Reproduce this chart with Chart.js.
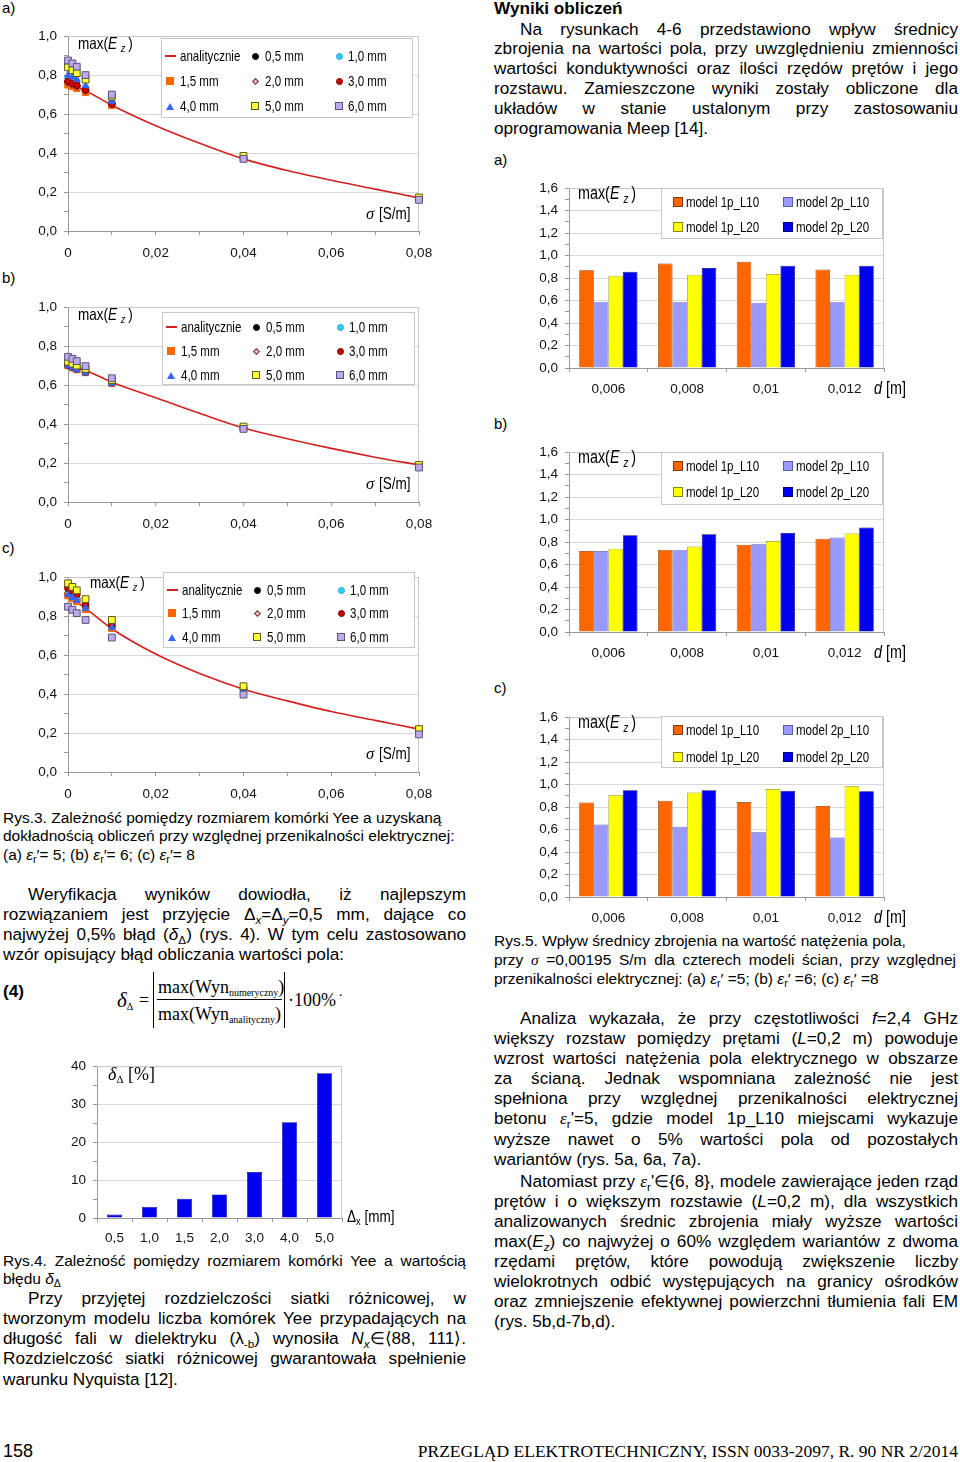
<!DOCTYPE html>
<html lang="pl">
<head>
<meta charset="UTF-8" />
<title>Przegląd Elektrotechniczny – str. 158</title>
<script src="https://cdn.jsdelivr.net/npm/chart.js@4.4.0/dist/chart.umd.min.js"></script>
<style>
  body { margin:0; width:960px; height:1462px; position:relative; overflow:hidden; background:#fff; color:#000;
         font-family:'Liberation Sans', Arial, sans-serif; }
  .t { position:absolute; white-space:nowrap; font-size:17.2px; line-height:20px; height:20px; }
  .j { white-space:normal; text-align:justify; text-align-last:justify; }
  .cap { font-size:15.5px; line-height:18px; height:18px; }
  .lbl { position:absolute; font-size:15px; line-height:18px; }
  .chart { position:absolute; }
  .ser { font-family:'Liberation Serif','Times New Roman',serif; }
  .ann { position:absolute; white-space:nowrap; font-size:16.5px; line-height:20px; z-index:2; }
  .cond { display:inline-block; transform:scaleX(0.82); transform-origin:left center; }
  .legend { position:absolute; background:#fff; border:1px solid #c8c8c8; z-index:2; box-sizing:border-box; }
  .legend .it { position:absolute; font-size:15px; line-height:16px; white-space:nowrap;
                transform:scaleX(0.77); transform-origin:left center; }
  .mk { position:absolute; box-sizing:border-box; }
  sub { font-size:0.68em; vertical-align:-0.3em; line-height:0; }
</style>
</head>
<body>

<!-- ===== left column ===== -->
<div class="lbl" style="left:2px;top:-1px">a)</div>
<div class="chart" style="left:20px;top:21px;width:430px;height:246px"><canvas id="fig3a"></canvas></div>
<div class="ann" style="left:78px;top:33px"><span class="cond">max(<i>E</i> <sub><i>z</i></sub>&thinsp;)</span></div>
<div class="ann" style="left:366px;top:203px"><i class="ser">σ</i> <span class="cond">[S/m]</span></div>
<div class="legend" id="leg3a" style="left:161px;top:38px;width:252px;height:80px"></div>

<div class="lbl" style="left:2px;top:269px">b)</div>
<div class="chart" style="left:20px;top:292px;width:430px;height:246px"><canvas id="fig3b"></canvas></div>
<div class="ann" style="left:78px;top:304px"><span class="cond">max(<i>E</i> <sub><i>z</i></sub>&thinsp;)</span></div>
<div class="ann" style="left:366px;top:473px"><i class="ser">σ</i> <span class="cond">[S/m]</span></div>
<div class="legend" id="leg3b" style="left:162px;top:312px;width:253px;height:73px"></div>

<div class="lbl" style="left:2px;top:539px">c)</div>
<div class="chart" style="left:20px;top:562px;width:430px;height:246px"><canvas id="fig3c"></canvas></div>
<div class="ann" style="left:90px;top:572px"><span class="cond">max(<i>E</i> <sub><i>z</i></sub>&thinsp;)</span></div>
<div class="ann" style="left:366px;top:743px"><i class="ser">σ</i> <span class="cond">[S/m]</span></div>
<div class="legend" id="leg3c" style="left:163px;top:572px;width:252px;height:76px"></div>

<div class="t cap" style="left:3px;top:809px">Rys.3. Zależność pomiędzy rozmiarem komórki Yee a uzyskaną</div>
<div class="t cap" style="left:3px;top:827px">dokładnością obliczeń przy względnej przenikalności elektrycznej:</div>
<div class="t cap" style="left:3px;top:846px">(a) <i>ε</i><sub>r</sub>′= 5; (b) <i>ε</i><sub>r</sub>′= 6; (c) <i>ε</i><sub>r</sub>′= 8</div>

<div class="t j" style="left:28px;top:884px;width:438px">Weryfikacja wyników dowiodła, iż najlepszym</div>
<div class="t j" style="left:3px;top:904px;width:463px">rozwiązaniem jest przyjęcie Δ<sub><i>x</i></sub>=Δ<sub><i>y</i></sub>=0,5&nbsp;mm, dające co</div>
<div class="t j" style="left:3px;top:924px;width:463px">najwyżej 0,5% błąd (<i>δ</i><sub>Δ</sub>) (rys. 4). W tym celu zastosowano</div>
<div class="t" style="left:3px;top:944px">wzór opisujący błąd obliczania wartości pola:</div>

<!-- formula (4) -->
<div class="t" style="left:3px;top:981px;font-weight:bold">(4)</div>
<div class="t ser" style="left:117px;top:989px;font-size:21px;line-height:22px"><i>δ</i><sub style="font-size:10px">Δ</sub></div>
<div class="t ser" style="left:139px;top:989px;font-size:18px;line-height:22px">=</div>
<div style="position:absolute;left:153px;top:972px;width:0;height:56px;border-left:1px solid #000"></div>
<div class="t ser" style="left:158px;top:976px;font-size:18px;line-height:22px">max(Wyn<sub style="font-size:10px">numeryczny</sub>)</div>
<div style="position:absolute;left:157px;top:999px;width:125px;height:0;border-top:1px solid #000"></div>
<div class="t ser" style="left:158px;top:1003px;font-size:18px;line-height:22px">max(Wyn<sub style="font-size:10px">analityczny</sub>)</div>
<div style="position:absolute;left:284px;top:972px;width:0;height:56px;border-left:1px solid #000"></div>
<div class="t ser" style="left:288px;top:989px;font-size:18px;line-height:22px">·100%</div>
<div class="t ser" style="left:339px;top:982px;font-size:14px">.</div>

<div class="chart" style="left:60px;top:1051px;width:300px;height:201px"><canvas id="fig4"></canvas></div>
<div class="ann ser" style="left:108px;top:1064px;font-size:18px"><i>δ</i><sub style="font-size:11px">Δ</sub> <span>[%]</span></div>
<div class="ann" style="left:347px;top:1206px"><span class="cond">Δ<sub>x</sub> [mm]</span></div>

<div class="t cap j" style="left:3px;top:1252px;width:463px">Rys.4. Zależność pomiędzy rozmiarem komórki Yee a wartością</div>
<div class="t cap" style="left:3px;top:1270px">błędu <i>δ</i><sub>Δ</sub></div>

<div class="t j" style="left:28px;top:1288px;width:438px">Przy przyjętej rozdzielczości siatki różnicowej, w</div>
<div class="t j" style="left:3px;top:1308px;width:463px">tworzonym modelu liczba komórek Yee przypadających na</div>
<div class="t j" style="left:3px;top:1328px;width:463px">długość fali w dielektryku (λ<sub>-b</sub>) wynosiła <i>N</i><sub><i>x</i></sub>∈⟨88,&nbsp;111⟩.</div>
<div class="t j" style="left:3px;top:1348px;width:463px">Rozdzielczość siatki różnicowej gwarantowała spełnienie</div>
<div class="t" style="left:3px;top:1369px">warunku Nyquista [12].</div>

<!-- ===== right column ===== -->
<div class="t" style="left:494px;top:-2px;font-weight:bold">Wyniki obliczeń</div>
<div class="t j" style="left:520px;top:19px;width:438px">Na rysunkach 4-6 przedstawiono wpływ średnicy</div>
<div class="t j" style="left:494px;top:38px;width:464px">zbrojenia na wartości pola, przy uwzględnieniu zmienności</div>
<div class="t j" style="left:494px;top:58px;width:464px">wartości konduktywności oraz ilości rzędów prętów i jego</div>
<div class="t j" style="left:494px;top:78px;width:464px">rozstawu. Zamieszczone wyniki zostały obliczone dla</div>
<div class="t j" style="left:494px;top:98px;width:464px">układów w stanie ustalonym przy zastosowaniu</div>
<div class="t" style="left:494px;top:118px">oprogramowania Meep [14].</div>

<div class="lbl" style="left:494px;top:151px">a)</div>
<div class="chart" style="left:520px;top:173px;width:380px;height:229px"><canvas id="fig5a"></canvas></div>
<div class="ann" style="left:578px;top:183px;font-size:17.5px"><span class="cond">max(<i>E</i> <sub><i>z</i></sub>&thinsp;)</span></div>
<div class="ann" style="left:874px;top:378px;font-size:17.5px"><span class="cond"><i>d</i> [m]</span></div>
<div class="legend" id="leg5a" style="left:661px;top:188px;width:222px;height:51px"></div>

<div class="lbl" style="left:494px;top:415px">b)</div>
<div class="chart" style="left:520px;top:437px;width:380px;height:229px"><canvas id="fig5b"></canvas></div>
<div class="ann" style="left:578px;top:447px;font-size:17.5px"><span class="cond">max(<i>E</i> <sub><i>z</i></sub>&thinsp;)</span></div>
<div class="ann" style="left:874px;top:642px;font-size:17.5px"><span class="cond"><i>d</i> [m]</span></div>
<div class="legend" id="leg5b" style="left:661px;top:452px;width:222px;height:53px"></div>

<div class="lbl" style="left:494px;top:679px">c)</div>
<div class="chart" style="left:520px;top:702px;width:380px;height:229px"><canvas id="fig5c"></canvas></div>
<div class="ann" style="left:578px;top:712px;font-size:17.5px"><span class="cond">max(<i>E</i> <sub><i>z</i></sub>&thinsp;)</span></div>
<div class="ann" style="left:874px;top:907px;font-size:17.5px"><span class="cond"><i>d</i> [m]</span></div>
<div class="legend" id="leg5c" style="left:661px;top:716px;width:222px;height:52px"></div>

<div class="t cap" style="left:494px;top:932px">Rys.5. Wpływ średnicy zbrojenia na wartość natężenia pola,</div>
<div class="t cap j" style="left:494px;top:951px;width:462px">przy <i class="ser">σ</i> =0,00195 S/m dla czterech modeli ścian, przy względnej</div>
<div class="t cap" style="left:494px;top:970px">przenikalności elektrycznej: (a) <i>ε</i><sub>r</sub>′ =5; (b) <i>ε</i><sub>r</sub>′ =6; (c) <i>ε</i><sub>r</sub>′ =8</div>

<div class="t j" style="left:520px;top:1008px;width:438px">Analiza wykazała, że przy częstotliwości <i>f</i>=2,4 GHz</div>
<div class="t j" style="left:494px;top:1028px;width:464px">większy rozstaw pomiędzy prętami (<i>L</i>=0,2 m) powoduje</div>
<div class="t j" style="left:494px;top:1048px;width:464px">wzrost wartości natężenia pola elektrycznego w obszarze</div>
<div class="t j" style="left:494px;top:1068px;width:464px">za ścianą. Jednak wspomniana zależność nie jest</div>
<div class="t j" style="left:494px;top:1088px;width:464px">spełniona przy względnej przenikalności elektrycznej</div>
<div class="t j" style="left:494px;top:1108px;width:464px">betonu <i class="ser">ε</i><sub>r</sub>'=5, gdzie model 1p_L10 miejscami wykazuje</div>
<div class="t j" style="left:494px;top:1129px;width:464px">wyższe nawet o 5% wartości pola od pozostałych</div>
<div class="t" style="left:494px;top:1149px">wariantów (rys. 5a, 6a, 7a).</div>

<div class="t j" style="left:520px;top:1171px;width:438px">Natomiast przy <i class="ser">ε</i><sub>r</sub>'∈{6, 8}, modele zawierające jeden rząd</div>
<div class="t j" style="left:494px;top:1191px;width:464px">prętów i o większym rozstawie (<i>L</i>=0,2 m), dla wszystkich</div>
<div class="t j" style="left:494px;top:1211px;width:464px">analizowanych średnic zbrojenia miały wyższe wartości</div>
<div class="t j" style="left:494px;top:1231px;width:464px">max(<i>E</i><sub><i>z</i></sub>) co najwyżej o 60% względem wariantów z dwoma</div>
<div class="t j" style="left:494px;top:1251px;width:464px">rzędami prętów, które powodują zwiększenie liczby</div>
<div class="t j" style="left:494px;top:1271px;width:464px">wielokrotnych odbić występujących na granicy ośrodków</div>
<div class="t j" style="left:494px;top:1291px;width:464px">oraz zmniejszenie efektywnej powierzchni tłumienia fali EM</div>
<div class="t" style="left:494px;top:1311px">(rys. 5b,d-7b,d).</div>

<!-- footer -->
<div class="t" style="left:3px;top:1441px;font-size:18px">158</div>
<div class="t ser" style="left:380px;top:1441px;width:578px;text-align:right;font-size:17.5px">PRZEGLĄD ELEKTROTECHNICZNY, ISSN 0033-2097, R. 90 NR 2/2014</div>

<script>
  // ---- Rys.3: max(Ez) vs conductivity, for several Yee cell sizes ----
  const sigmaPoints = [0, 0.001, 0.002, 0.004, 0.01, 0.04, 0.08];
  const sigmaCurve = [0, 0.004, 0.01, 0.02, 0.03, 0.04, 0.05, 0.06, 0.07, 0.08];
  const cellSizes = ['0,5 mm', '1,0 mm', '1,5 mm', '2,0 mm', '3,0 mm', '4,0 mm', '5,0 mm', '6,0 mm'];

  // one row per cell size, values at sigmaPoints
  const ez3a = [
    [0.765, 0.755, 0.745, 0.722, 0.655, 0.375, 0.165],
    [0.785, 0.775, 0.765, 0.735, 0.660, 0.375, 0.165],
    [0.750, 0.742, 0.732, 0.712, 0.645, 0.372, 0.165],
    [0.760, 0.750, 0.740, 0.718, 0.650, 0.374, 0.165],
    [0.768, 0.757, 0.747, 0.724, 0.652, 0.376, 0.166],
    [0.800, 0.790, 0.778, 0.745, 0.665, 0.378, 0.167],
    [0.840, 0.825, 0.810, 0.777, 0.690, 0.385, 0.172],
    [0.875, 0.860, 0.843, 0.800, 0.700, 0.370, 0.160]
  ];
  const ez3b = [
    [0.700, 0.690, 0.680, 0.665, 0.610, 0.378, 0.185],
    [0.705, 0.695, 0.685, 0.668, 0.612, 0.378, 0.185],
    [0.700, 0.690, 0.680, 0.665, 0.610, 0.378, 0.185],
    [0.702, 0.692, 0.682, 0.667, 0.612, 0.378, 0.185],
    [0.703, 0.693, 0.683, 0.667, 0.612, 0.378, 0.185],
    [0.698, 0.688, 0.678, 0.662, 0.608, 0.376, 0.184],
    [0.720, 0.710, 0.700, 0.683, 0.625, 0.387, 0.190],
    [0.745, 0.735, 0.723, 0.697, 0.635, 0.375, 0.177]
  ];
  const ez3c = [
    [0.910, 0.895, 0.880, 0.840, 0.740, 0.425, 0.215],
    [0.915, 0.900, 0.885, 0.845, 0.745, 0.425, 0.215],
    [0.905, 0.890, 0.875, 0.835, 0.738, 0.420, 0.213],
    [0.920, 0.905, 0.890, 0.848, 0.748, 0.427, 0.216],
    [0.943, 0.928, 0.912, 0.860, 0.757, 0.430, 0.218],
    [0.910, 0.895, 0.880, 0.840, 0.740, 0.424, 0.214],
    [0.968, 0.950, 0.932, 0.887, 0.780, 0.440, 0.220],
    [0.848, 0.832, 0.815, 0.780, 0.690, 0.397, 0.193]
  ];
  // analytical curves, values at sigmaCurve
  const curve3a = [0.755, 0.720, 0.645, 0.540, 0.450, 0.370, 0.310, 0.260, 0.215, 0.170];
  const curve3b = [0.700, 0.675, 0.615, 0.535, 0.455, 0.380, 0.325, 0.275, 0.230, 0.190];
  const curve3c = [0.900, 0.840, 0.735, 0.605, 0.505, 0.425, 0.365, 0.310, 0.265, 0.220];

  // ---- Rys.4: error vs cell size ----
  const cellLabels = ['0,5', '1,0', '1,5', '2,0', '3,0', '4,0', '5,0'];
  const deltaError = [0.9, 2.9, 5.1, 6.2, 12.1, 25.2, 38.1];

  // ---- Rys.5: max(Ez) vs rebar diameter, four wall models ----
  const diameters = ['0,006', '0,008', '0,01', '0,012'];
  const modelNames = ['model 1p_L10', 'model 2p_L10', 'model 1p_L20', 'model 2p_L20'];
  const ez5a = [
    [0.870, 0.930, 0.945, 0.875],
    [0.590, 0.585, 0.580, 0.585],
    [0.820, 0.830, 0.835, 0.830],
    [0.855, 0.890, 0.910, 0.910]
  ];
  const ez5b = [
    [0.720, 0.730, 0.775, 0.830],
    [0.720, 0.730, 0.780, 0.840],
    [0.740, 0.760, 0.810, 0.875],
    [0.860, 0.870, 0.880, 0.930]
  ];
  const ez5c = [
    [0.840, 0.855, 0.845, 0.810],
    [0.645, 0.625, 0.575, 0.530],
    [0.905, 0.930, 0.960, 0.985],
    [0.950, 0.950, 0.945, 0.940]
  ];

  // ---- styles ----
  const markerStyles = [
    { shape: 'circle',   bg: '#000000', bd: '#000000', r: 3.2 },
    { shape: 'circle',   bg: '#33ccff', bd: '#22aadd', r: 3.2 },
    { shape: 'rect',     bg: '#ff6600', bd: '#ff6600', r: 4.6 },
    { shape: 'rectRot',  bg: '#f4c8c8', bd: '#7a2a2a', r: 3.4 },
    { shape: 'circle',   bg: '#d00000', bd: '#700000', r: 3.4 },
    { shape: 'triangle', bg: '#3366ff', bd: '#3366ff', r: 3.8 },
    { shape: 'rect',     bg: '#ffff33', bd: '#5a5a1a', r: 4.8 },
    { shape: 'rect',     bg: '#c0a8ec', bd: '#555577', r: 4.8 }
  ];
  const modelColors = ['#ff6600', '#9999ff', '#ffff00', '#0000ee'];
  const modelEdges  = ['#8a3300', '#5b5ba0', '#8a8a00', '#00007a'];

  Chart.defaults.font.family = "'Liberation Sans', Arial, sans-serif";
  Chart.defaults.font.size = 13.5;
  Chart.defaults.color = '#111';

  const comma = (v, d) => v.toFixed(d).replace('.', ',');

  // light frame on top and right of plot area
  const frame = {
    id: 'frame',
    beforeDatasetsDraw(chart) {
      const { ctx, chartArea: a } = chart;
      ctx.save();
      ctx.strokeStyle = '#c8c8c8';
      ctx.lineWidth = 1;
      ctx.beginPath();
      ctx.moveTo(a.left, a.top + 0.5);
      ctx.lineTo(a.right - 0.5, a.top + 0.5);
      ctx.lineTo(a.right - 0.5, a.bottom);
      ctx.stroke();
      ctx.restore();
    }
  };

  function yAxis(max, step, width, pad, digits) {
    return {
      min: 0, max: max,
      ticks: {
        stepSize: step, autoSkip: false, padding: pad,
        callback: v => (Math.round(v / step) % 2 ? '' : comma(v, digits))
      },
      grid: {
        color: c => (c.tick.value === 0 || Math.round(c.tick.value / step) % 2 ? 'transparent' : '#d8d8d8'),
        tickColor: '#999', tickLength: 4
      },
      border: { color: '#999' },
      afterFit: s => { s.width = width; }
    };
  }

  function makeScatter(id, rows, curve) {
    const sets = [{
      label: 'analitycznie',
      data: sigmaCurve.map((x, i) => ({ x: x, y: curve[i] })),
      showLine: true, pointRadius: 0, borderColor: '#d42020', borderWidth: 1.6,
      cubicInterpolationMode: 'monotone', order: 20, clip: false
    }];
    cellSizes.forEach((name, k) => {
      const m = markerStyles[k];
      sets.push({
        label: name,
        data: sigmaPoints.map((x, i) => ({ x: x, y: rows[k][i] })),
        pointStyle: m.shape, pointRadius: m.r, backgroundColor: m.bg, borderColor: m.bd,
        borderWidth: 1, order: 10 - k, clip: false
      });
    });
    new Chart(document.getElementById(id), {
      type: 'scatter',
      data: { datasets: sets },
      options: {
        responsive: true, maintainAspectRatio: false, animation: false,
        layout: { padding: { top: 10, right: 31, left: 0, bottom: 0 } },
        plugins: { legend: { display: false }, tooltip: { enabled: false } },
        scales: {
          x: {
            type: 'linear', min: 0, max: 0.08,
            ticks: {
              stepSize: 0.01, autoSkip: false, padding: 10, maxRotation: 0,
              callback: v => (Math.round(v * 100) % 2 ? '' : (v === 0 ? '0' : comma(v, 2)))
            },
            grid: { color: 'transparent', tickColor: '#999', tickLength: 4 },
            border: { color: '#999' },
            afterFit: s => { s.height = 36; }
          },
          y: yAxis(1, 0.1, 48, 7, 1)
        }
      },
      plugins: [frame]
    });
  }

  function makeBars(id, rows) {
    new Chart(document.getElementById(id), {
      type: 'bar',
      data: {
        labels: diameters,
        datasets: modelNames.map((name, k) => ({
          label: name, data: rows[k],
          backgroundColor: modelColors[k], borderColor: modelEdges[k], borderWidth: 0.7,
          categoryPercentage: 0.74, barPercentage: 1
        }))
      },
      options: {
        responsive: true, maintainAspectRatio: false, animation: false,
        layout: { padding: { top: 10, right: 16, left: 0, bottom: 0 } },
        plugins: { legend: { display: false }, tooltip: { enabled: false } },
        scales: {
          x: {
            ticks: { padding: 9, maxRotation: 0 },
            grid: { color: 'transparent', tickColor: '#999', tickLength: 4 },
            border: { color: '#999' },
            afterFit: s => { s.height = 34; }
          },
          y: yAxis(1.6, 0.1, 49, 7, 1)
        }
      },
      plugins: [frame]
    });
  }

  new Chart(document.getElementById('fig4'), {
    type: 'bar',
    data: {
      labels: cellLabels,
      datasets: [{
        label: 'δΔ [%]', data: deltaError,
        backgroundColor: '#0000ee', borderColor: '#00008a', borderWidth: 0.6,
        categoryPercentage: 1, barPercentage: 0.43
      }]
    },
    options: {
      responsive: true, maintainAspectRatio: false, animation: false,
      layout: { padding: { top: 10, right: 18, left: 0, bottom: 0 } },
      plugins: { legend: { display: false }, tooltip: { enabled: false } },
      scales: {
        x: {
          ticks: { padding: 8, maxRotation: 0 },
          grid: { color: 'transparent', tickColor: '#999', tickLength: 4 },
          border: { color: '#999' },
          afterFit: s => { s.height = 34; }
        },
        y: yAxis(40, 5, 37, 7, 0)
      }
    },
    plugins: [frame]
  });

  makeScatter('fig3a', ez3a, curve3a);
  makeScatter('fig3b', ez3b, curve3b);
  makeScatter('fig3c', ez3c, curve3c);
  makeBars('fig5a', ez5a);
  makeBars('fig5b', ez5b);
  makeBars('fig5c', ez5c);

  // ---- HTML legends ----
  function addMarker(parent, shape, cx, cy, bg, bd) {
    const m = document.createElement('div');
    m.className = 'mk';
    let w = 7, h = 7;
    if (shape === 'line') { w = 11; h = 2; m.style.background = bg; }
    else if (shape === 'circle') { m.style.background = bg; m.style.border = '1px solid ' + bd; m.style.borderRadius = '50%'; }
    else if (shape === 'rect') { w = h = 8; m.style.background = bg; m.style.border = '1px solid ' + bd; }
    else if (shape === 'swatch') { w = h = 10; m.style.background = bg; m.style.border = '1px solid ' + bd; }
    else if (shape === 'rectRot') { w = h = 5; m.style.background = bg; m.style.border = '1px solid ' + bd; m.style.transform = 'rotate(45deg)'; }
    else if (shape === 'triangle') {
      w = 8; h = 7;
      m.style.width = '0'; m.style.height = '0';
      m.style.borderLeft = '4px solid transparent';
      m.style.borderRight = '4px solid transparent';
      m.style.borderBottom = '7px solid ' + bg;
    }
    if (shape !== 'triangle') { m.style.width = w + 'px'; m.style.height = h + 'px'; }
    m.style.left = (cx - w / 2) + 'px';
    m.style.top = (cy - h / 2) + 'px';
    parent.appendChild(m);
  }

  function addText(parent, text, x, cy) {
    const d = document.createElement('div');
    d.className = 'it';
    d.textContent = text;
    d.style.left = x + 'px';
    d.style.top = (cy - 8) + 'px';
    parent.appendChild(d);
  }

  function scatterLegend(id, rowsY) {
    const box = document.getElementById(id);
    const items = [{ label: 'analitycznie', shape: 'line', bg: '#d42020', bd: '#d42020' }]
      .concat(cellSizes.map((l, i) => Object.assign({ label: l }, markerStyles[i])));
    const mx = [8, 93, 177], tx = [18, 103, 186];
    items.forEach((it, i) => {
      const r = Math.floor(i / 3), c = i % 3;
      addMarker(box, it.shape, mx[c], rowsY[r], it.bg, it.bd);
      addText(box, it.label, tx[c], rowsY[r]);
    });
  }

  function barLegend(id, rowsY) {
    const box = document.getElementById(id);
    const mx = [16, 126], tx = [24, 134];
    modelNames.forEach((name, i) => {
      const r = Math.floor(i / 2), c = i % 2;
      addMarker(box, 'swatch', mx[c], rowsY[r], modelColors[i], modelEdges[i]);
      addText(box, name, tx[c], rowsY[r]);
    });
  }

  scatterLegend('leg3a', [17, 42, 67]);
  scatterLegend('leg3b', [14, 38, 62]);
  scatterLegend('leg3c', [17, 40, 64]);
  barLegend('leg5a', [13, 38]);
  barLegend('leg5b', [13, 39]);
  barLegend('leg5c', [13, 40]);
</script>
</body>
</html>
